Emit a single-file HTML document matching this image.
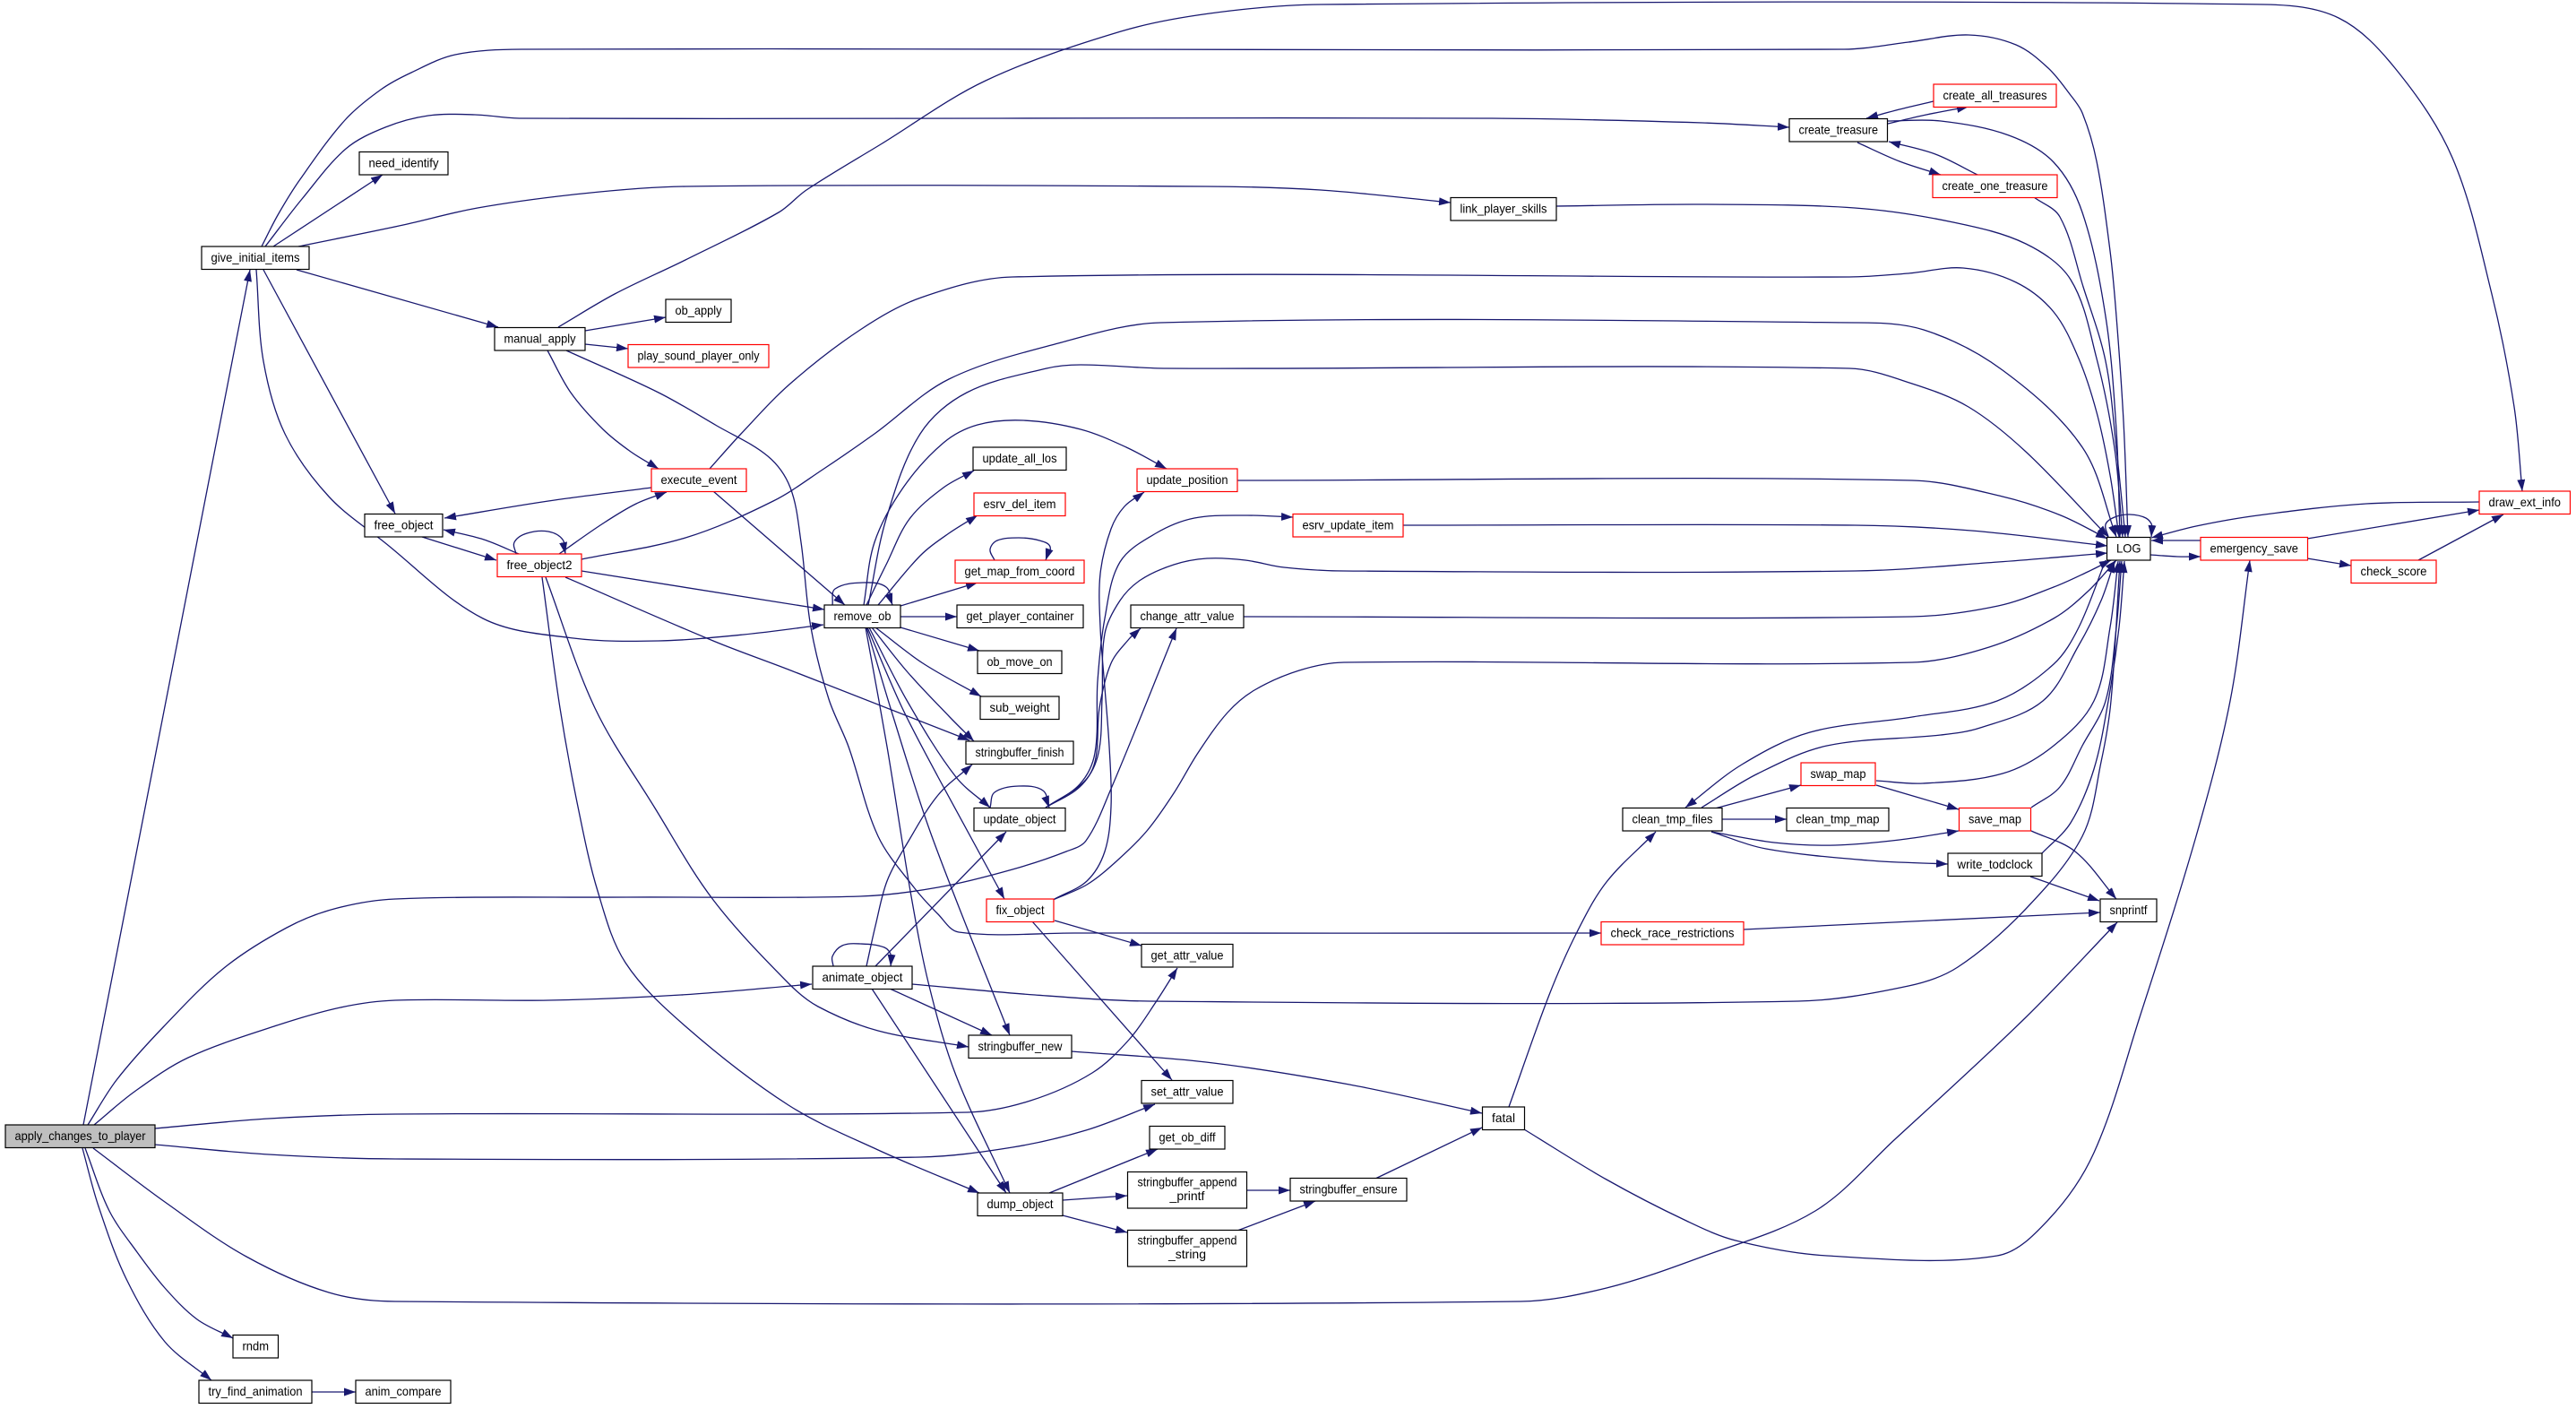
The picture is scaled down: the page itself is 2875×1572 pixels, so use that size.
<!DOCTYPE html>
<html><head><meta charset="utf-8"><style>
html,body{margin:0;padding:0;background:#fff;}
svg{display:block;}
.e{fill:none;stroke:#191970;stroke-width:1.3;stroke-linejoin:round;marker-end:url(#a);}
.n rect{fill:#fff;stroke:#000;stroke-width:1.2;}
.n.r rect{stroke:#ff0000;}
.n.g rect{fill:#bfbfbf;}
text{font-family:"Liberation Sans",Arial,sans-serif;font-size:14px;text-anchor:middle;fill:#000;}
</style></head><body>
<svg width="2875" height="1572" viewBox="0 0 2875 1572" xmlns="http://www.w3.org/2000/svg">
<defs><marker id="a" markerWidth="13" markerHeight="9" refX="13" refY="4.5" orient="auto" markerUnits="userSpaceOnUse"><path d="M0,0 L13,4.5 L0,9 z" fill="#191970"/></marker></defs>
<rect width="2875" height="1572" fill="#fff"/>
<g>
<path class="e" d="M93,1255 L279,301"/>
<path class="e" d="M98,1255 L130,1205 L183,1145 L250,1080 L320,1035 L373,1014 L441,1003 L700,1001 L960,1000 L1047,990 L1130,970 L1190,950 L1212,938 L1240,880 L1313,701"/>
<path class="e" d="M105,1255 L150,1218 L210,1180 L306,1145 L380,1124 L441,1116 L612,1116 L760,1110 L906,1098"/>
<path class="e" d="M173,1259 L300,1248 L441,1243 L1080,1241 L1150,1228 L1219,1197 L1260,1160 L1290,1118 L1314,1080"/>
<path class="e" d="M173,1277 L300,1288 L441,1293 L1027,1291 L1130,1280 L1212,1261 L1289,1232"/>
<path class="e" d="M104,1281 L184,1341 L275,1402 L367,1442 L441,1452 L1697,1452 L1793,1437 L1900,1402 L2026,1351 L2115,1271 L2261,1135 L2363,1029"/>
<path class="e" d="M95,1281 L122,1351 L153,1397 L184,1437 L220,1472 L260,1493"/>
<path class="e" d="M92,1281 L110,1346 L141,1427 L184,1497 L236,1540"/>
<path class="e" d="M348,1553 L397,1553"/>
<path class="e" d="M305,275 L427,195"/>
<path class="e" d="M292,275 L310,240 L335,200 L385,134 L425,100 L459,81 L508,61 L582,55 L2058,55 L2130,47 L2197,39 L2250,50 L2286,76 L2310,105 L2324,126 L2340,180 L2355,280 L2362,353 L2370,470 L2375,599"/>
<path class="e" d="M296,275 L337,222 L386,166 L430,142 L478,129 L530,128 L582,132 L1665,132 L1900,137 L1997,142"/>
<path class="e" d="M333,275 L450,251 L533,232 L650,216 L765,208 L1346,208 L1474,212 L1619,226"/>
<path class="e" d="M331,301 L556,365"/>
<path class="e" d="M294,301 L441,573"/>
<path class="e" d="M286,301 L294,403 L318,484 L367,554 L429,605 L539,690 L640,712 L735,715 L830,708 L919,697"/>
<path class="e" d="M653,369 L743,354"/>
<path class="e" d="M653,384 L701,389"/>
<path class="e" d="M611,391 L637,438 L673,479 L704,504 L735,523"/>
<path class="e" d="M623,365 L686,328 L765,290 L869,237 L900,212 L983,161 L1100,90 L1251,35 L1350,15 L1474,5 L2527,5 L2610,20 L2673,76 L2737,176 L2781,328 L2806,454 L2815,548"/>
<path class="e" d="M632,391 L735,438 L800,475 L857,509 L882,544 L894,605 L905,700 L925,780 L947,833 L980,933 L1020,990 L1047,1020 L1070,1040 L1200,1041 L1787,1041"/>
<path class="e" d="M727,544 L612,559 L496,578"/>
<path class="e" d="M792,523 L827,484 L882,428 L960,368 L1028,332 L1130,309 L2064,309 L2130,305 L2191,299 L2250,315 L2292,348 L2320,400 L2340,460 L2355,530 L2365,599"/>
<path class="e" d="M796,548 L943,675"/>
<path class="e" d="M471,599 L554,625"/>
<path class="e" d="M579,618 L540,602 L495,591"/>
<path class="e" d="M576,618 L574,605 L588,595 L612,593 L628,602 L631,618"/>
<path class="e" d="M624,618 L673,584 L710,562 L744,549"/>
<path class="e" d="M649,624 L765,600 L863,559 L918,524 L976,484 L1059,423 L1181,383 L1295,360 L2070,360 L2147,368 L2235,413 L2324,499 L2362,599"/>
<path class="e" d="M649,637 L920,680"/>
<path class="e" d="M631,644 L796,715 L880,747 L1082,826"/>
<path class="e" d="M605,644 L625,790 L645,900 L667,994 L698,1074 L765,1145 L880,1233 L980,1283 L1093,1331"/>
<path class="e" d="M609,644 L664,790 L730,900 L796,1004 L880,1097 L913,1123 L980,1150 L1081,1168"/>
<path class="e" d="M929,675 L932,657 L964,650 L989,655 L996,675"/>
<path class="e" d="M967,675 L989,630 L1015,579 L1053,544 L1087,525"/>
<path class="e" d="M980,675 L1027,620 L1059,595 L1091,575"/>
<path class="e" d="M1005,676 L1091,650"/>
<path class="e" d="M1005,688 L1068,688"/>
<path class="e" d="M1005,700 L1093,726"/>
<path class="e" d="M977,700 L1030,740 L1095,777"/>
<path class="e" d="M973,700 L1013,750 L1060,800 L1087,827"/>
<path class="e" d="M970,700 L1013,783 L1067,867 L1105,901"/>
<path class="e" d="M968,700 L1007,790 L1047,867 L1121,1003"/>
<path class="e" d="M967,700 L997,800 L1040,933 L1127,1155"/>
<path class="e" d="M966,700 L990,833 L1017,1000 L1037,1100 L1067,1200 L1127,1331"/>
<path class="e" d="M964,675 L976,605 L1008,544 L1053,494 L1091,474 L1142,469 L1206,479 L1257,499 L1302,523"/>
<path class="e" d="M969,675 L989,579 L1027,484 L1079,438 L1168,411 L1206,407 L1302,411 L2064,411 L2134,428 L2197,454 L2261,504 L2353,599"/>
<path class="e" d="M1105,901 L1110,884 L1137,877 L1164,882 L1171,901"/>
<path class="e" d="M1177,1003 L1213,983 L1233,950 L1240,900 L1238,833 L1233,767 L1228,700 L1228,640 L1240,590 L1255,565 L1277,549"/>
<path class="e" d="M1167,901 L1205,875 L1222,840 L1225,760 L1233,690 L1250,627 L1290,595 L1333,578 L1390,575 L1443,577"/>
<path class="e" d="M1167,901 L1210,872 L1226,840 L1230,780 L1233,707 L1250,670 L1273,647 L1310,630 L1347,623 L1390,625 L1433,633 L1500,637 L2070,637 L2230,627 L2352,617"/>
<path class="e" d="M1167,901 L1205,878 L1222,850 L1227,790 L1240,740 L1260,713 L1273,701"/>
<path class="e" d="M1175,1004 L1213,987 L1247,960 L1280,927 L1310,885 L1337,840 L1370,795 L1400,770 L1450,748 L1500,739 L2134,739 L2220,722 L2292,690 L2330,660 L2362,625"/>
<path class="e" d="M1177,1027 L1274,1055"/>
<path class="e" d="M1152,1028 L1308,1205"/>
<path class="e" d="M930,1078 L929,1067 L940,1055 L960,1053 L987,1057 L995,1067 L994,1078"/>
<path class="e" d="M977,1078 L1123,928"/>
<path class="e" d="M967,1078 L977,1033 L990,983 L1013,940 L1047,887 L1085,853"/>
<path class="e" d="M993,1103 L1107,1155"/>
<path class="e" d="M973,1103 L1123,1331"/>
<path class="e" d="M1018,1098 L1155,1110 L1283,1117 L2007,1117 L2130,1100 L2185,1079 L2261,1014 L2324,933 L2345,850 L2356,782 L2366,626"/>
<path class="e" d="M1171,1331 L1292,1282"/>
<path class="e" d="M1186,1339 L1258,1334"/>
<path class="e" d="M1186,1356 L1258,1375"/>
<path class="e" d="M1392,1328 L1440,1328"/>
<path class="e" d="M1381,1373 L1468,1340"/>
<path class="e" d="M1535,1315 L1654,1258"/>
<path class="e" d="M1196,1173 L1346,1185 L1506,1210 L1654,1242"/>
<path class="e" d="M1684,1235 L1729,1110 L1760,1040 L1793,984 L1848,928"/>
<path class="e" d="M1701,1260 L1793,1316 L1880,1361 L1937,1384 L2039,1401 L2229,1401 L2286,1361 L2337,1286 L2388,1135 L2451,933 L2489,782 L2511,625"/>
<path class="e" d="M1914,902 L2010,876"/>
<path class="e" d="M1922,914 L1994,914"/>
<path class="e" d="M1910,928 L1980,940 L2048,943 L2120,937 L2186,927"/>
<path class="e" d="M2094,876 L2186,903"/>
<path class="e" d="M1910,928 L1971,947 L2086,960 L2174,964"/>
<path class="e" d="M2267,927 L2316,950 L2362,1003"/>
<path class="e" d="M2266,978 L2343,1005"/>
<path class="e" d="M1946,1037 L2344,1018"/>
<path class="e" d="M1899,901 L1962,863 L2039,832 L2166,820 L2210,812 L2280,782 L2320,720 L2345,670 L2360,626"/>
<path class="e" d="M2350,625 L2320,700 L2292,741 L2229,782 L2134,800 L2020,817 L1944,853 L1881,901"/>
<path class="e" d="M2094,871 L2146,874 L2235,863 L2292,832 L2337,782 L2355,700 L2364,626"/>
<path class="e" d="M2267,901 L2299,878 L2324,832 L2350,782 L2362,700 L2368,626"/>
<path class="e" d="M2279,952 L2311,918 L2337,858 L2353,782 L2365,700 L2371,626"/>
<path class="e" d="M1381,536 L2134,536 L2235,554 L2300,575 L2352,601"/>
<path class="e" d="M1566,586 L2070,586 L2200,592 L2352,609"/>
<path class="e" d="M1388,688 L2134,688 L2230,676 L2292,655 L2330,638 L2356,625"/>
<path class="e" d="M1737,230 L1900,228 L2070,232 L2180,248 L2261,272 L2311,312 L2340,400 L2360,500 L2369,599"/>
<path class="e" d="M2106,135 L2166,135 L2242,151 L2292,181 L2324,237 L2350,353 L2362,480 L2366,599"/>
<path class="e" d="M2270,220 L2299,242 L2325,320 L2350,403 L2362,500 L2372,599"/>
<path class="e" d="M2107,138 L2150,128 L2197,119"/>
<path class="e" d="M2158,113 L2120,122 L2083,132"/>
<path class="e" d="M2073,159 L2120,180 L2166,195"/>
<path class="e" d="M2207,195 L2160,172 L2108,158"/>
<path class="e" d="M2353,599 L2350,585 L2360,577 L2377,574 L2395,578 L2402,587 L2401,599"/>
<path class="e" d="M2400,619 L2430,621 L2456,621"/>
<path class="e" d="M2456,603 L2401,603"/>
<path class="e" d="M2767,560 L2641,562 L2520,575 L2451,587 L2401,600"/>
<path class="e" d="M2575,601 L2767,569"/>
<path class="e" d="M2575,623 L2624,631"/>
<path class="e" d="M2699,625 L2794,574"/>
<path class="e" d="M1110,625 L1105,613 L1113,603 L1137,600 L1160,603 L1172,610 L1167,625"/>
</g>
<g>
<g class="n g"><rect x="6" y="1255" width="167" height="25.5"/><text x="89.5" y="1272" textLength="146" lengthAdjust="spacingAndGlyphs">apply_changes_to_player</text></g>
<g class="n"><rect x="225" y="275" width="120" height="25.5"/><text x="285" y="292" textLength="99" lengthAdjust="spacingAndGlyphs">give_initial_items</text></g>
<g class="n"><rect x="401" y="169.5" width="99" height="25.5"/><text x="450.5" y="186.5" textLength="78" lengthAdjust="spacingAndGlyphs">need_identify</text></g>
<g class="n"><rect x="552" y="365.5" width="101" height="25.5"/><text x="602.5" y="382.5" textLength="80" lengthAdjust="spacingAndGlyphs">manual_apply</text></g>
<g class="n"><rect x="743" y="334" width="73" height="25.5"/><text x="779.5" y="351" textLength="52" lengthAdjust="spacingAndGlyphs">ob_apply</text></g>
<g class="n r"><rect x="701" y="384.5" width="157" height="25.5"/><text x="779.5" y="401.5" textLength="136" lengthAdjust="spacingAndGlyphs">play_sound_player_only</text></g>
<g class="n r"><rect x="727" y="523" width="106" height="25.5"/><text x="780" y="540" textLength="85" lengthAdjust="spacingAndGlyphs">execute_event</text></g>
<g class="n"><rect x="407" y="573.5" width="87" height="25.5"/><text x="450.5" y="590.5" textLength="66" lengthAdjust="spacingAndGlyphs">free_object</text></g>
<g class="n r"><rect x="555" y="618" width="94" height="25.5"/><text x="602" y="635" textLength="73" lengthAdjust="spacingAndGlyphs">free_object2</text></g>
<g class="n"><rect x="920" y="675" width="85" height="25.5"/><text x="962.5" y="692" textLength="64" lengthAdjust="spacingAndGlyphs">remove_ob</text></g>
<g class="n"><rect x="1086" y="499" width="104" height="25.5"/><text x="1138" y="516" textLength="83" lengthAdjust="spacingAndGlyphs">update_all_los</text></g>
<g class="n r"><rect x="1087" y="550" width="102" height="25.5"/><text x="1138" y="567" textLength="81" lengthAdjust="spacingAndGlyphs">esrv_del_item</text></g>
<g class="n r"><rect x="1066" y="625" width="144" height="25.5"/><text x="1138" y="642" textLength="123" lengthAdjust="spacingAndGlyphs">get_map_from_coord</text></g>
<g class="n"><rect x="1068" y="675" width="141" height="25.5"/><text x="1138.5" y="692" textLength="120" lengthAdjust="spacingAndGlyphs">get_player_container</text></g>
<g class="n"><rect x="1091" y="726" width="94" height="25.5"/><text x="1138" y="743" textLength="73" lengthAdjust="spacingAndGlyphs">ob_move_on</text></g>
<g class="n"><rect x="1094" y="777" width="88" height="25.5"/><text x="1138" y="794" textLength="67" lengthAdjust="spacingAndGlyphs">sub_weight</text></g>
<g class="n"><rect x="1078" y="827" width="120" height="25.5"/><text x="1138" y="844" textLength="99" lengthAdjust="spacingAndGlyphs">stringbuffer_finish</text></g>
<g class="n"><rect x="1087" y="901.5" width="102" height="25.5"/><text x="1138" y="918.5" textLength="81" lengthAdjust="spacingAndGlyphs">update_object</text></g>
<g class="n r"><rect x="1101" y="1003" width="75" height="25.5"/><text x="1138.5" y="1020" textLength="54" lengthAdjust="spacingAndGlyphs">fix_object</text></g>
<g class="n"><rect x="907" y="1078" width="111" height="25.5"/><text x="962.5" y="1095" textLength="90" lengthAdjust="spacingAndGlyphs">animate_object</text></g>
<g class="n"><rect x="1081" y="1155" width="115" height="25.5"/><text x="1138.5" y="1172" textLength="94" lengthAdjust="spacingAndGlyphs">stringbuffer_new</text></g>
<g class="n"><rect x="1091" y="1331" width="95" height="25.5"/><text x="1138.5" y="1348" textLength="74" lengthAdjust="spacingAndGlyphs">dump_object</text></g>
<g class="n r"><rect x="1269" y="523" width="112" height="25.5"/><text x="1325" y="540" textLength="91" lengthAdjust="spacingAndGlyphs">update_position</text></g>
<g class="n r"><rect x="1443" y="573.5" width="123" height="25.5"/><text x="1504.5" y="590.5" textLength="102" lengthAdjust="spacingAndGlyphs">esrv_update_item</text></g>
<g class="n"><rect x="1262" y="675" width="126" height="25.5"/><text x="1325" y="692" textLength="105" lengthAdjust="spacingAndGlyphs">change_attr_value</text></g>
<g class="n"><rect x="1274" y="1053.5" width="102" height="25.5"/><text x="1325" y="1070.5" textLength="81" lengthAdjust="spacingAndGlyphs">get_attr_value</text></g>
<g class="n"><rect x="1274" y="1205.5" width="102" height="25.5"/><text x="1325" y="1222.5" textLength="81" lengthAdjust="spacingAndGlyphs">set_attr_value</text></g>
<g class="n"><rect x="1283" y="1256.5" width="84" height="25.5"/><text x="1325" y="1273.5" textLength="63" lengthAdjust="spacingAndGlyphs">get_ob_diff</text></g>
<g class="n"><rect x="1258.5" y="1307.5" width="133" height="40.5"/><text x="1325" y="1323.5" textLength="111" lengthAdjust="spacingAndGlyphs">stringbuffer_append</text><text x="1325" y="1339">_printf</text></g>
<g class="n"><rect x="1258.5" y="1372.5" width="133" height="40.5"/><text x="1325" y="1388.5" textLength="111" lengthAdjust="spacingAndGlyphs">stringbuffer_append</text><text x="1325" y="1404">_string</text></g>
<g class="n"><rect x="1440" y="1314.5" width="130" height="25.5"/><text x="1505" y="1331.5" textLength="109" lengthAdjust="spacingAndGlyphs">stringbuffer_ensure</text></g>
<g class="n"><rect x="1654.5" y="1235" width="47" height="25.5"/><text x="1678" y="1252" textLength="26" lengthAdjust="spacingAndGlyphs">fatal</text></g>
<g class="n"><rect x="1811" y="901.5" width="111" height="25.5"/><text x="1866.5" y="918.5" textLength="90" lengthAdjust="spacingAndGlyphs">clean_tmp_files</text></g>
<g class="n r"><rect x="2010" y="851" width="83" height="25.5"/><text x="2051.5" y="868" textLength="62" lengthAdjust="spacingAndGlyphs">swap_map</text></g>
<g class="n"><rect x="1994" y="901.5" width="114" height="25.5"/><text x="2051" y="918.5" textLength="93" lengthAdjust="spacingAndGlyphs">clean_tmp_map</text></g>
<g class="n r"><rect x="2186.5" y="901.5" width="80" height="25.5"/><text x="2226.5" y="918.5" textLength="59" lengthAdjust="spacingAndGlyphs">save_map</text></g>
<g class="n"><rect x="2174" y="952" width="105" height="25.5"/><text x="2226.5" y="969" textLength="84" lengthAdjust="spacingAndGlyphs">write_todclock</text></g>
<g class="n"><rect x="2344" y="1003" width="63" height="25.5"/><text x="2375.5" y="1020" textLength="42" lengthAdjust="spacingAndGlyphs">snprintf</text></g>
<g class="n r"><rect x="1787" y="1028.5" width="159" height="25.5"/><text x="1866.5" y="1045.5" textLength="138" lengthAdjust="spacingAndGlyphs">check_race_restrictions</text></g>
<g class="n"><rect x="1619" y="220.5" width="118" height="25.5"/><text x="1678" y="237.5" textLength="97" lengthAdjust="spacingAndGlyphs">link_player_skills</text></g>
<g class="n"><rect x="1997" y="132.5" width="109.5" height="25.5"/><text x="2051.75" y="149.5" textLength="88.5" lengthAdjust="spacingAndGlyphs">create_treasure</text></g>
<g class="n r"><rect x="2158" y="94" width="137" height="25.5"/><text x="2226.5" y="111" textLength="116" lengthAdjust="spacingAndGlyphs">create_all_treasures</text></g>
<g class="n r"><rect x="2157" y="195" width="139" height="25.5"/><text x="2226.5" y="212" textLength="118" lengthAdjust="spacingAndGlyphs">create_one_treasure</text></g>
<g class="n"><rect x="2351.5" y="599.5" width="48.5" height="25.5"/><text x="2375.75" y="616.5" textLength="27.5" lengthAdjust="spacingAndGlyphs">LOG</text></g>
<g class="n r"><rect x="2456" y="599.5" width="119.5" height="25.5"/><text x="2515.75" y="616.5" textLength="98.5" lengthAdjust="spacingAndGlyphs">emergency_save</text></g>
<g class="n r"><rect x="2767" y="548" width="101.5" height="25.5"/><text x="2817.75" y="565" textLength="80.5" lengthAdjust="spacingAndGlyphs">draw_ext_info</text></g>
<g class="n r"><rect x="2624" y="625" width="95" height="25.5"/><text x="2671.5" y="642" textLength="74" lengthAdjust="spacingAndGlyphs">check_score</text></g>
<g class="n"><rect x="260" y="1489.5" width="50.5" height="25.5"/><text x="285.25" y="1506.5" textLength="29.5" lengthAdjust="spacingAndGlyphs">rndm</text></g>
<g class="n"><rect x="222" y="1540" width="126" height="25.5"/><text x="285" y="1557" textLength="105" lengthAdjust="spacingAndGlyphs">try_find_animation</text></g>
<g class="n"><rect x="397" y="1540" width="106" height="25.5"/><text x="450" y="1557" textLength="85" lengthAdjust="spacingAndGlyphs">anim_compare</text></g>
</g>
</svg>
<script>
(function(){
  var paths = document.querySelectorAll('path.e');
  for (var k = 0; k < paths.length; k++) {
    var p = paths[k];
    var nums = p.getAttribute('d').match(/-?\d+(\.\d+)?/g).map(Number);
    var P = [];
    for (var i = 0; i + 1 < nums.length; i += 2) P.push([nums[i], nums[i+1]]);
    if (P.length < 3) continue;
    var n = P.length;
    var tan = function(i){
      var a = P[Math.max(i-1,0)], b = P[Math.min(i+1,n-1)];
      var dx = b[0]-a[0], dy = b[1]-a[1];
      var l = Math.sqrt(dx*dx+dy*dy) || 1;
      return [dx/l, dy/l];
    };
    var d = 'M' + P[0][0] + ',' + P[0][1];
    for (var j = 0; j < n-1; j++) {
      var a = P[j], b = P[j+1];
      var L = Math.sqrt((b[0]-a[0])*(b[0]-a[0]) + (b[1]-a[1])*(b[1]-a[1])) / 3;
      var t1 = tan(j), t2 = tan(j+1);
      d += ' C' + (a[0]+t1[0]*L).toFixed(1) + ',' + (a[1]+t1[1]*L).toFixed(1) + ' ' +
           (b[0]-t2[0]*L).toFixed(1) + ',' + (b[1]-t2[1]*L).toFixed(1) + ' ' + b[0] + ',' + b[1];
    }
    p.setAttribute('d', d);
  }
})();
</script>
</body></html>
